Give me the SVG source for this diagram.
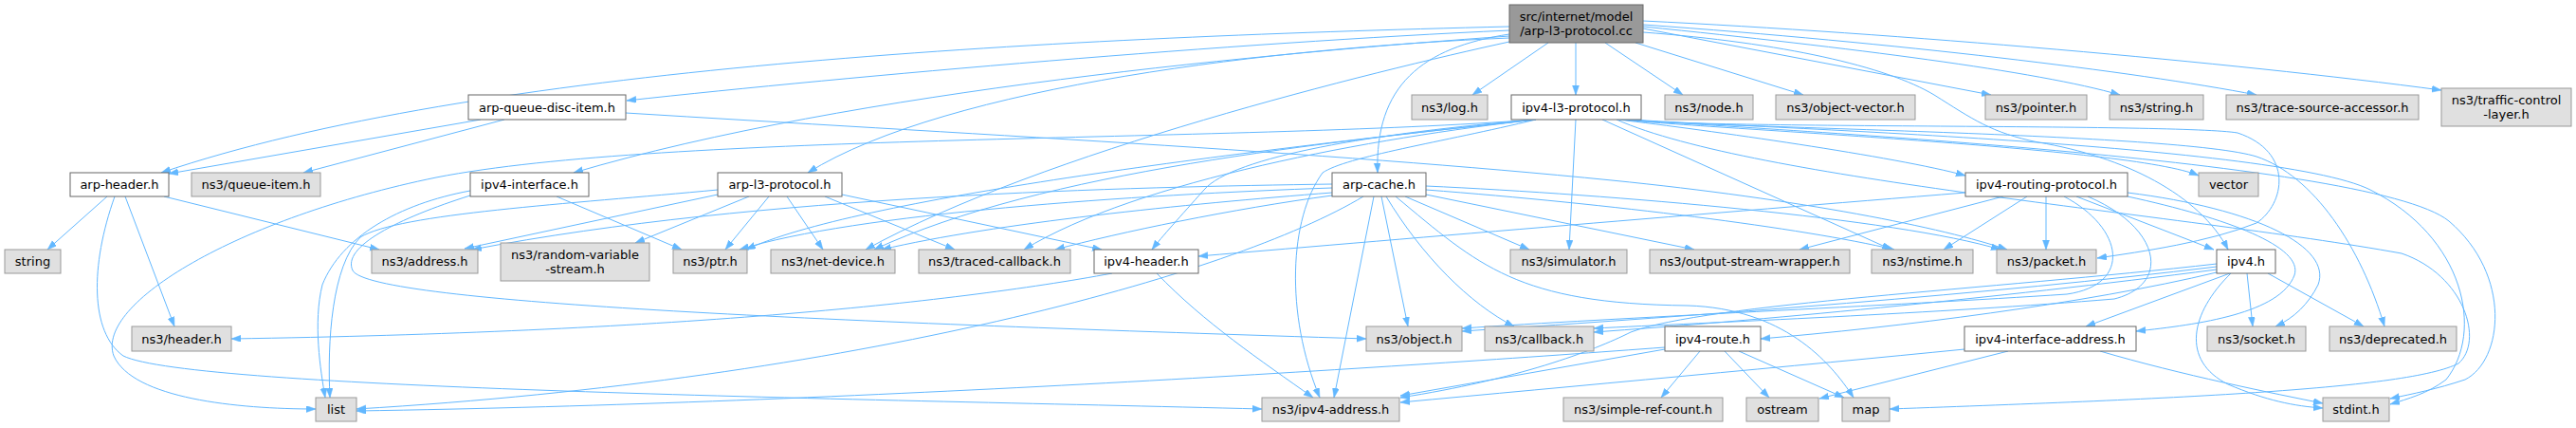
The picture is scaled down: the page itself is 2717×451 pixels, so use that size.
<svg xmlns="http://www.w3.org/2000/svg" width="2717" height="451" viewBox="0 0 2717 451">
<style>
.g rect{fill:#e0e0e0;stroke:#999999;stroke-width:1}
.w rect{fill:#ffffff;stroke:#666666;stroke-width:1}
.r rect{fill:#999999;stroke:#666666;stroke-width:1}
text{font-family:"DejaVu Sans","Liberation Sans",sans-serif;font-size:13px;text-anchor:middle;fill:#000000}
#edges path{fill:none;stroke:#63b8ff;stroke-width:1;marker-end:url(#a)}
</style>
<defs>
<marker id="a" markerWidth="11" markerHeight="8" refX="10" refY="3.5" orient="auto" markerUnits="userSpaceOnUse"><path d="M0,0 L10,3.5 L0,7 z" fill="#63b8ff" stroke="#63b8ff" stroke-width="0.5"/></marker>
</defs>
<rect x="0" y="0" width="2717" height="451" fill="#ffffff"/>
<g id="edges">
<path d="M1592,40 C1350,50 1000,90 852,182"/>
<path d="M1592,36 C1500,50 1450,90 1453,182"/>
<path d="M1592,28 C1100,40 500,70 170,182"/>
<path d="M1592,32 C1300,45 900,80 661,106"/>
<path d="M1592,38 C1350,55 900,95 605,182"/>
<path d="M1662,45 L1662,100"/>
<path d="M1633,45 L1553,100"/>
<path d="M1592,44 C1450,75 1100,160 913,263"/>
<path d="M1693,45 L1775,100"/>
<path d="M1725,45 L1902,100"/>
<path d="M1733,34 C1880,45 1990,70 2040,100 C2080,125 2100,140 2150,150 C2240,165 2320,205 2350,263"/>
<path d="M1733,30 L2100,100"/>
<path d="M1733,28 C1950,50 2150,75 2236,100"/>
<path d="M1733,26 C2000,45 2250,75 2380,100"/>
<path d="M1733,22 C2000,35 2350,65 2575,95"/>
<path d="M113,207 L50,263"/>
<path d="M132,207 L184,344"/>
<path d="M173,207 L400,263"/>
<path d="M121,207 C95,280 95,350 130,375 C200,410 900,420 1331,431"/>
<path d="M507,126 L178,183"/>
<path d="M532,126 L320,182"/>
<path d="M660,119 C1000,140 1400,160 1700,190 C1900,210 2050,240 2117,263"/>
<path d="M587,207 L719,263"/>
<path d="M496,201 C420,215 360,250 340,300 C330,340 338,390 343,419"/>
<path d="M496,206 C420,230 360,260 372,285 C390,320 900,340 1441,357"/>
<path d="M757,205 L490,262"/>
<path d="M790,207 L670,256"/>
<path d="M811,207 L765,263"/>
<path d="M830,207 L868,263"/>
<path d="M870,207 L1007,263"/>
<path d="M888,205 L1162,263"/>
<path d="M757,200 C600,215 420,225 380,250 C350,280 345,360 348,419"/>
<path d="M1620,126 C1300,150 700,140 460,187 C250,230 100,320 120,375 C140,420 250,431 333,431"/>
<path d="M1620,126 C1520,150 1420,165 1395,182 C1360,230 1355,330 1392,419"/>
<path d="M1620,126 C1450,140 1300,165 1270,200 C1245,228 1225,250 1215,263"/>
<path d="M1620,126 C1400,150 1100,180 922,263"/>
<path d="M1620,126 C1450,145 1200,190 1080,263"/>
<path d="M1620,126 C1300,160 900,210 787,263"/>
<path d="M1662,126 L1655,263"/>
<path d="M1690,126 L1995,263"/>
<path d="M1707,126 C1800,137 2000,165 2073,185"/>
<path d="M1710,126 C1800,136 2250,155 2319,185"/>
<path d="M1713,126 C1800,136 2300,130 2360,140 C2420,160 2410,215 2380,235 C2330,255 2260,265 2212,272"/>
<path d="M1716,126 C1800,135 2300,140 2380,165 C2440,185 2490,260 2515,344"/>
<path d="M1719,126 C1800,134 2500,165 2583,233 C2650,290 2640,380 2600,400 C2570,410 2545,415 2521,420"/>
<path d="M1722,126 C1800,133 2400,150 2500,200 C2600,250 2620,350 2580,400 C2560,415 2540,420 2521,426"/>
<path d="M1705,126 C1850,190 2300,225 2533,267 C2600,290 2620,360 2593,383 C2540,410 2300,420 1993,431"/>
<path d="M1405,194 C1200,197 800,205 498,263"/>
<path d="M1405,198 C1200,205 900,225 780,263"/>
<path d="M1405,203 C1250,215 1050,235 930,263"/>
<path d="M1405,206 C1300,220 1180,245 1113,263"/>
<path d="M1438,207 C1300,290 900,400 376,431"/>
<path d="M1449,207 L1407,419"/>
<path d="M1457,207 L1485,344"/>
<path d="M1462,207 C1500,270 1550,320 1597,344"/>
<path d="M1472,207 C1560,280 1600,320 1780,322 C1880,325 1930,380 1955,419"/>
<path d="M1482,207 L1613,263"/>
<path d="M1504,205 L1787,263"/>
<path d="M1504,200 C1700,215 1900,240 1998,263"/>
<path d="M1504,196 C1700,205 2000,230 2110,263"/>
<path d="M1173,288 C1000,320 700,350 244,357"/>
<path d="M1220,288 C1270,340 1330,380 1385,419"/>
<path d="M2073,203 C1800,225 1500,250 1264,270"/>
<path d="M2113,207 L1898,263"/>
<path d="M2138,207 L2050,263"/>
<path d="M2158,207 L2158,263"/>
<path d="M2190,207 L2335,263"/>
<path d="M2177,207 C2240,240 2250,300 2180,310 C2000,322 1700,335 1542,346"/>
<path d="M2202,207 C2280,240 2290,300 2230,315 C2050,330 1800,340 1681,346"/>
<path d="M2244,203 C2380,220 2460,260 2445,300 C2435,320 2420,335 2400,344"/>
<path d="M2244,207 C2350,230 2430,260 2420,290 C2405,330 2320,342 2253,349"/>
<path d="M2352,288 L2200,344"/>
<path d="M2338,287 C2200,320 2000,345 1857,357"/>
<path d="M2338,281 C2100,310 1800,332 1542,349"/>
<path d="M2338,284 C2100,315 1850,338 1681,350"/>
<path d="M2338,278 C2100,305 1800,320 1720,350 C1680,370 1600,400 1477,419"/>
<path d="M2370,288 L2376,344"/>
<path d="M2392,288 L2493,344"/>
<path d="M2353,288 C2310,330 2300,380 2350,405 C2390,422 2420,428 2450,430"/>
<path d="M2072,368 C1900,385 1650,408 1477,424"/>
<path d="M2118,370 L1919,420"/>
<path d="M2215,370 C2300,395 2400,415 2450,425"/>
<path d="M1756,366 C1500,385 900,425 376,433"/>
<path d="M1756,368 L1477,417"/>
<path d="M1793,370 L1752,419"/>
<path d="M1819,370 L1866,419"/>
<path d="M1834,370 L1945,419"/>
</g>
<g id="n-cc" class="r"><rect x="1592" y="5" width="141" height="40"/><text x="1662.5" y="21.5">src/internet/model</text><text x="1662.5" y="36.5">/arp-l3-protocol.cc</text></g>
<g id="n-arp-header" class="w"><rect x="74" y="182" width="104" height="25"/><text x="126" y="199">arp-header.h</text></g>
<g id="n-queue-item" class="g"><rect x="202" y="182" width="136" height="25"/><text x="270" y="199">ns3/queue-item.h</text></g>
<g id="n-string" class="g"><rect x="5" y="263" width="59" height="25"/><text x="34.5" y="280">string</text></g>
<g id="n-address" class="g"><rect x="392" y="263" width="112" height="25"/><text x="448" y="280">ns3/address.h</text></g>
<g id="n-header" class="g"><rect x="139" y="344" width="105" height="26"/><text x="191.5" y="361.5">ns3/header.h</text></g>
<g id="n-list" class="g"><rect x="333" y="419" width="43" height="25"/><text x="354.5" y="436">list</text></g>
<g id="n-arp-queue-disc-item" class="w"><rect x="494" y="100" width="166" height="26"/><text x="577" y="117.5">arp-queue-disc-item.h</text></g>
<g id="n-ipv4-interface" class="w"><rect x="496" y="182" width="125" height="25"/><text x="558.5" y="199">ipv4-interface.h</text></g>
<g id="n-arp-l3-protocol-h" class="w"><rect x="757" y="182" width="131" height="25"/><text x="822.5" y="199">arp-l3-protocol.h</text></g>
<g id="n-random-variable-stream" class="g"><rect x="528" y="256" width="157" height="40"/><text x="606.5" y="273">ns3/random-variable</text><text x="606.5" y="288">-stream.h</text></g>
<g id="n-ptr" class="g"><rect x="710" y="263" width="78" height="25"/><text x="749" y="280">ns3/ptr.h</text></g>
<g id="n-net-device" class="g"><rect x="813" y="263" width="131" height="25"/><text x="878.5" y="280">ns3/net-device.h</text></g>
<g id="n-traced-callback" class="g"><rect x="969" y="263" width="160" height="25"/><text x="1049" y="280">ns3/traced-callback.h</text></g>
<g id="n-ipv4-header" class="w"><rect x="1154" y="263" width="110" height="25"/><text x="1209" y="280">ipv4-header.h</text></g>
<g id="n-log" class="g"><rect x="1489" y="100" width="80" height="26"/><text x="1529" y="117.5">ns3/log.h</text></g>
<g id="n-ipv4-l3-protocol" class="w"><rect x="1594" y="100" width="137" height="26"/><text x="1662.5" y="117.5">ipv4-l3-protocol.h</text></g>
<g id="n-arp-cache" class="w"><rect x="1405" y="182" width="99" height="25"/><text x="1454.5" y="199">arp-cache.h</text></g>
<g id="n-simulator" class="g"><rect x="1593" y="263" width="123" height="25"/><text x="1654.5" y="280">ns3/simulator.h</text></g>
<g id="n-object" class="g"><rect x="1441" y="344" width="101" height="26"/><text x="1491.5" y="361.5">ns3/object.h</text></g>
<g id="n-callback" class="g"><rect x="1566" y="344" width="115" height="26"/><text x="1623.5" y="361.5">ns3/callback.h</text></g>
<g id="n-ipv4-address" class="g"><rect x="1331" y="419" width="145" height="25"/><text x="1403.5" y="436">ns3/ipv4-address.h</text></g>
<g id="n-simple-ref-count" class="g"><rect x="1649" y="419" width="168" height="25"/><text x="1733" y="436">ns3/simple-ref-count.h</text></g>
<g id="n-ipv4-route" class="w"><rect x="1756" y="344" width="101" height="26"/><text x="1806.5" y="361.5">ipv4-route.h</text></g>
<g id="n-node" class="g"><rect x="1756" y="100" width="93" height="26"/><text x="1802.5" y="117.5">ns3/node.h</text></g>
<g id="n-object-vector" class="g"><rect x="1873" y="100" width="147" height="26"/><text x="1946.5" y="117.5">ns3/object-vector.h</text></g>
<g id="n-pointer" class="g"><rect x="2094" y="100" width="107" height="26"/><text x="2147.5" y="117.5">ns3/pointer.h</text></g>
<g id="n-ipv4-routing-protocol" class="w"><rect x="2073" y="182" width="171" height="25"/><text x="2158.5" y="199">ipv4-routing-protocol.h</text></g>
<g id="n-output-stream-wrapper" class="g"><rect x="1740" y="263" width="211" height="25"/><text x="1845.5" y="280">ns3/output-stream-wrapper.h</text></g>
<g id="n-nstime" class="g"><rect x="1974" y="263" width="107" height="25"/><text x="2027.5" y="280">ns3/nstime.h</text></g>
<g id="n-packet" class="g"><rect x="2106" y="263" width="105" height="25"/><text x="2158.5" y="280">ns3/packet.h</text></g>
<g id="n-ostream" class="g"><rect x="1842" y="419" width="76" height="25"/><text x="1880" y="436">ostream</text></g>
<g id="n-map" class="g"><rect x="1943" y="419" width="50" height="25"/><text x="1968" y="436">map</text></g>
<g id="n-ipv4-interface-address" class="w"><rect x="2072" y="344" width="181" height="26"/><text x="2162.5" y="361.5">ipv4-interface-address.h</text></g>
<g id="n-string-h" class="g"><rect x="2225" y="100" width="99" height="26"/><text x="2274.5" y="117.5">ns3/string.h</text></g>
<g id="n-trace-source-accessor" class="g"><rect x="2348" y="100" width="203" height="26"/><text x="2449.5" y="117.5">ns3/trace-source-accessor.h</text></g>
<g id="n-traffic-control-layer" class="g"><rect x="2575" y="93" width="137" height="40"/><text x="2643.5" y="110">ns3/traffic-control</text><text x="2643.5" y="125">-layer.h</text></g>
<g id="n-vector" class="g"><rect x="2319" y="182" width="63" height="25"/><text x="2350.5" y="199">vector</text></g>
<g id="n-ipv4" class="w"><rect x="2338" y="263" width="62" height="25"/><text x="2369" y="280">ipv4.h</text></g>
<g id="n-socket" class="g"><rect x="2328" y="344" width="104" height="26"/><text x="2380" y="361.5">ns3/socket.h</text></g>
<g id="n-deprecated" class="g"><rect x="2457" y="344" width="134" height="26"/><text x="2524" y="361.5">ns3/deprecated.h</text></g>
<g id="n-stdint" class="g"><rect x="2450" y="419" width="70" height="25"/><text x="2485" y="436">stdint.h</text></g>
</svg>
